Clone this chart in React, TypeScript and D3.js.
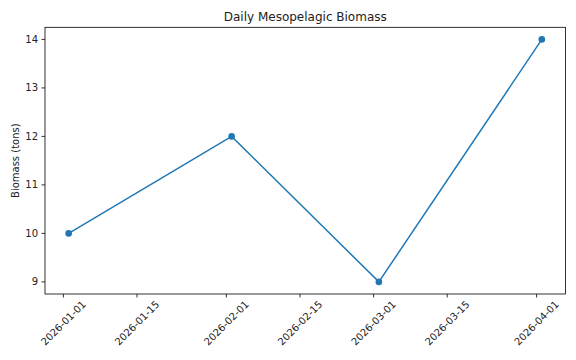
import * as d3 from "d3";
import React, { useEffect, useRef } from "react";

const dates = ["2026-01-02", "2026-02-02", "2026-03-02", "2026-04-02"];
const biomass = [10, 12, 9, 14];
const xTicks = ["2026-01-01", "2026-01-15", "2026-02-01", "2026-02-15", "2026-03-01", "2026-03-15", "2026-04-01"];
const yTicks = [9, 10, 11, 12, 13, 14];

export default function App() {
  const ref = useRef<SVGSVGElement>(null);

  useEffect(() => {
    const width = 576,
      height = 360;
    const left = 45, right = 565.5, top = 27.3, bottom = 294;
    const font = "DejaVu Sans, sans-serif";

    const svg = d3.select(ref.current);
    svg.selectAll("*").remove();

    const parse = d3.utcParse("%Y-%m-%d");
    const pts = dates.map((d, i) => ({ date: parse(d) as Date, v: biomass[i] }));

    const xExt = d3.extent(pts, d => +d.date) as [number, number];
    const xPad = (xExt[1] - xExt[0]) * 0.05;
    const x = d3.scaleUtc()
      .domain([new Date(xExt[0] - xPad), new Date(xExt[1] + xPad)])
      .range([left, right]);

    const yExt = d3.extent(biomass) as [number, number];
    const yPad = (yExt[1] - yExt[0]) * 0.05;
    const y = d3.scaleLinear()
      .domain([yExt[0] - yPad, yExt[1] + yPad])
      .range([bottom, top]);

    svg.append("rect")
      .attr("width", width).attr("height", height).attr("fill", "white");

    // x axis
    const xg = svg.append("g");
    xTicks.forEach(t => {
      const px = x(parse(t) as Date);
      xg.append("line")
        .attr("x1", px).attr("x2", px)
        .attr("y1", bottom).attr("y2", bottom + 3.5)
        .attr("stroke", "black").attr("stroke-width", 0.8);
      xg.append("text")
        .attr("transform", `translate(${px},${bottom + 29}) rotate(-45)`)
        .attr("text-anchor", "middle")
        .attr("dominant-baseline", "central")
        .attr("font-family", font)
        .attr("font-size", 10)
        .attr("fill", "#222")
        .text(t);
    });

    // y axis
    const yg = svg.append("g");
    yTicks.forEach(t => {
      const py = y(t);
      yg.append("line")
        .attr("x1", left - 3.5).attr("x2", left)
        .attr("y1", py).attr("y2", py)
        .attr("stroke", "black").attr("stroke-width", 0.8);
      yg.append("text")
        .attr("x", left - 7).attr("y", py)
        .attr("text-anchor", "end")
        .attr("dominant-baseline", "central")
        .attr("font-family", font)
        .attr("font-size", 10)
        .attr("fill", "#222")
        .text(t);
    });

    svg.append("rect")
      .attr("x", left).attr("y", top)
      .attr("width", right - left).attr("height", bottom - top)
      .attr("fill", "none").attr("stroke", "black").attr("stroke-width", 0.8);

    const line = d3.line<{ date: Date; v: number }>()
      .x(d => x(d.date))
      .y(d => y(d.v));

    svg.append("path")
      .datum(pts)
      .attr("d", line)
      .attr("fill", "none")
      .attr("stroke", "#1f77b4")
      .attr("stroke-width", 1.5);

    svg.selectAll("circle.pt")
      .data(pts)
      .join("circle")
      .attr("class", "pt")
      .attr("cx", d => x(d.date))
      .attr("cy", d => y(d.v))
      .attr("r", 3.3)
      .attr("fill", "#1f77b4");

    svg.append("text")
      .attr("x", (left + right) / 2).attr("y", top - 6)
      .attr("text-anchor", "middle")
      .attr("font-family", font)
      .attr("font-size", 12)
      .attr("fill", "#222")
      .text("Daily Mesopelagic Biomass");

    svg.append("text")
      .attr("transform", `translate(15,${(top + bottom) / 2}) rotate(-90)`)
      .attr("text-anchor", "middle")
      .attr("dominant-baseline", "central")
      .attr("font-family", font)
      .attr("font-size", 10)
      .attr("fill", "#222")
      .text("Biomass (tons)");
  }, []);

  return (
    <svg ref={ref} width={576} height={360}
      style={{ position: "absolute", left: 0, top: 0 }} />
  );
}
